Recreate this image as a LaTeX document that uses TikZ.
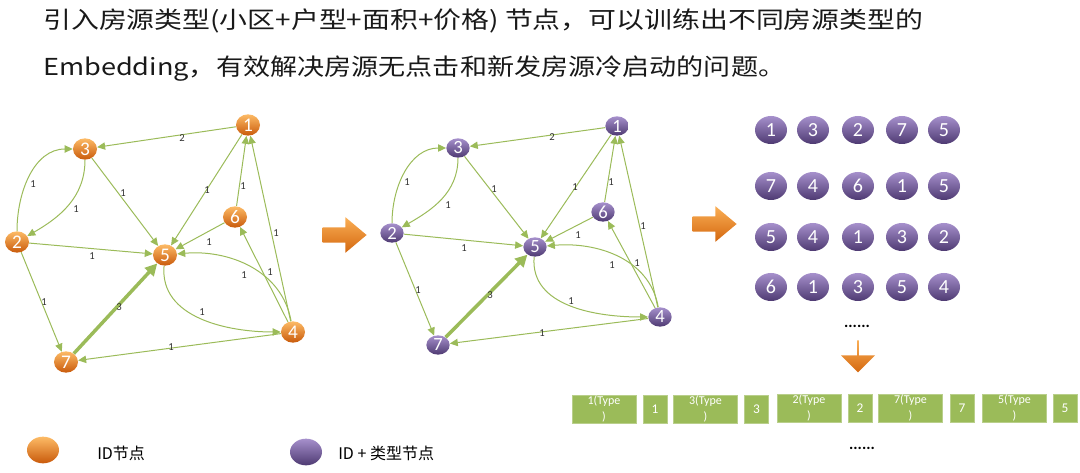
\documentclass[tikz,border=0pt]{standalone}
\usepackage{fontspec}
\setmainfont{Carlito}
\newfontfamily\cjk{Noto Sans CJK SC}
\usetikzlibrary{arrows.meta,shapes.geometric,shapes.arrows}
\definecolor{eg}{HTML}{9BBB59}
\definecolor{otop}{HTML}{FDBB66}
\definecolor{omid}{HTML}{F58A1F}
\definecolor{obot}{HTML}{C95A0B}
\definecolor{atop}{HTML}{FAAE55}
\definecolor{amid}{HTML}{F38B23}
\definecolor{abot}{HTML}{D4680F}
\definecolor{ptop}{HTML}{A690CC}
\definecolor{pmid}{HTML}{7E62A8}
\definecolor{pbot}{HTML}{4E3A72}
\definecolor{lblc}{HTML}{333333}
\begin{document}
\begin{tikzpicture}[x=0.75pt,y=-0.75pt,
  onode/.style={ellipse, inner sep=0pt, minimum width=18pt, minimum height=16pt,
     top color=otop, middle color=omid, bottom color=obot, text=white,
     font=\fontsize{14.5}{14.5}\selectfont},
  pnode/.style={ellipse, inner sep=0pt, minimum width=17.5pt, minimum height=14.5pt,
     top color=ptop, middle color=pmid, bottom color=pbot, text=white,
     font=\fontsize{14}{14}\selectfont},
  gnode/.style={ellipse, inner sep=0pt, minimum width=24pt, minimum height=21pt,
     top color=ptop, middle color=pmid, bottom color=pbot, text=white,
     font=\fontsize{15}{15}\selectfont},
  e/.style={draw=eg, line width=0.75pt, -{Triangle[length=6pt,width=5.5pt]}},
  thick edge/.style={draw=eg, line width=2.6pt, -{Triangle[length=9pt,width=9pt]}},
  lbl/.style={font=\fontsize{8}{8}\selectfont, text=lblc, inner sep=0pt},
  rarrow/.style={single arrow, inner sep=0pt, single arrow tip angle=80,
     top color=atop, middle color=amid, bottom color=abot, draw=none},
  wbox/.style={fill=eg, draw=eg!70!white, line width=0.5pt, text=white, inner sep=0pt,
     minimum width=48pt, minimum height=21pt, align=center, font=\fontsize{9}{12.5}\selectfont},
  nbox/.style={fill=eg, draw=eg!70!white, line width=0.5pt, text=white, inner sep=0pt,
     minimum width=18pt, minimum height=21pt, font=\fontsize{10}{10}\selectfont},
  dots/.style={font=\fontsize{12}{12}\selectfont\bfseries, inner sep=0pt},
  title/.style={anchor=west, inner sep=0pt, font=\cjk\fontsize{17.5}{20}\selectfont, text=black!90}
]
\useasboundingbox (0,0) rectangle (1080,473);

% title
\node[title] (t1) at (43,21)
  {\resizebox{660pt}{\height}{引入房源类型(小区+户型+面积+价格) 节点，可以训练出不同房源类型的}};
\node[title] (t2) at (43,69)
  {\resizebox{556.5pt}{\height}{Embedding，有效解决房源无点击和新发房源冷启动的问题。}};

% left graph
\node[onode] (o1) at (248,125) {1};
\node[onode] (o2) at (17,242) {2};
\node[onode] (o3) at (85,149) {3};
\node[onode] (o4) at (293,332) {4};
\node[onode] (o5) at (165,255) {5};
\node[onode] (o6) at (235,217) {6};
\node[onode] (o7) at (66,362) {7};

\draw[e] (o1) -- (o3) node[lbl] at (182,138) {2};
\draw[e] (o1) -- (o5) node[lbl] at (207,190) {1};
\draw[e] (o6) -- (o1) node[lbl] at (243,186) {1};
\draw[e] (o4) -- (o1) node[lbl] at (276,233) {1};
\draw[e] (o3) -- (o5) node[lbl] at (123,193) {1};
\draw[e] (o2) to[out=90,in=180] (o3) node[lbl] at (33,184) {1};
\draw[e] (o3) to[out=-90,in=30] (o2) node[lbl] at (76,209) {1};
\draw[e] (o2) -- (o5) node[lbl] at (92,256) {1};
\draw[e] (o2) -- (o7) node[lbl] at (44,302) {1};
\draw[thick edge] (o7) -- (o5) node[lbl] at (119,307) {3};
\draw[e] (o6) -- (o5) node[lbl] at (209,242) {1};
\draw[e] (o4) -- (o6) node[lbl] at (270,272) {1};
\draw[e] (o4) to[out=100,in=5] (o5) node[lbl] at (244,275) {1};
\draw[e] (o5) to[out=-95,in=180] (o4) node[lbl] at (202,312) {1};
\draw[e] (o4) -- (o7) node[lbl] at (171,347) {1};

% arrows between panels
\node[rarrow, minimum height=33pt, minimum width=26pt, inner ysep=5.6pt, single arrow head extend=7.5pt] (a1) at (340,235) {};
\node[rarrow, minimum height=33pt, minimum width=26pt, inner ysep=5.6pt, single arrow head extend=7.5pt] (a2) at (710,224) {};

% middle graph
\node[pnode] (p1) at (617,126) {1};
\node[pnode] (p2) at (392,233) {2};
\node[pnode] (p3) at (458,148) {3};
\node[pnode] (p4) at (660,317) {4};
\node[pnode] (p5) at (535,247) {5};
\node[pnode] (p6) at (603,212) {6};
\node[pnode] (p7) at (438,345) {7};

\draw[e] (p1) -- (p3) node[lbl] at (552,137) {2};
\draw[e] (p1) -- (p5) node[lbl] at (575,187) {1};
\draw[e] (p6) -- (p1) node[lbl] at (611,182) {1};
\draw[e] (p4) -- (p1) node[lbl] at (643,226) {1};
\draw[e] (p3) -- (p5) node[lbl] at (494,189) {1};
\draw[e] (p2) to[out=90,in=180] (p3) node[lbl] at (407,182) {1};
\draw[e] (p3) to[out=-90,in=30] (p2) node[lbl] at (448,205) {1};
\draw[e] (p2) -- (p5) node[lbl] at (464,248) {1};
\draw[e] (p2) -- (p7) node[lbl] at (418,290) {1};
\draw[thick edge] (p7) -- (p5) node[lbl] at (490,295) {3};
\draw[e] (p6) -- (p5) node[lbl] at (578,235) {1};
\draw[e] (p4) -- (p6) node[lbl] at (637,263) {1};
\draw[e] (p4) to[out=100,in=5] (p5) node[lbl] at (612,265) {1};
\draw[e] (p5) to[out=-95,in=180] (p4) node[lbl] at (571,301) {1};
\draw[e] (p4) -- (p7) node[lbl] at (542,333) {1};

% walk sequences
\foreach \r/\yy/\la/\lb/\lc/\ld/\le in {1/130/1/3/2/7/5, 2/186/7/4/6/1/5, 3/237/5/4/1/3/2, 4/287/6/1/3/5/4}{
  \node[gnode] (g\r a) at (771,\yy) {\la};
  \node[gnode] (g\r b) at (813,\yy) {\lb};
  \node[gnode] (g\r c) at (858,\yy) {\lc};
  \node[gnode] (g\r d) at (902,\yy) {\ld};
  \node[gnode] (g\r e) at (944,\yy) {\le};
}
\node[dots] (d1) at (857,326) {......};
\node[rarrow, shape border rotate=270, minimum height=24pt, minimum width=25.5pt,
      single arrow head extend=4pt, single arrow tip angle=90] (a3) at (858,356) {};

% token boxes
\node[wbox] (b1) at (604,409) {1(Type\\)};
\node[nbox] (b2) at (655,409) {1};
\node[wbox] (b3) at (705.5,409) {3(Type\\)};
\node[nbox] (b4) at (756.5,409) {3};
\node[wbox] (b5) at (809,408) {2(Type\\)};
\node[nbox] (b6) at (860,408) {2};
\node[wbox] (b7) at (910.5,408) {7(Type\\)};
\node[nbox] (b8) at (962,408) {7};
\node[wbox] (b9) at (1014.5,408) {5(Type\\)};
\node[nbox] (b10) at (1065,408) {5};
\node[dots] (d2) at (862,448) {......};

% legend
\node[onode, minimum width=24pt, minimum height=20pt] (lo) at (43,450) {};
\node[anchor=west, inner sep=0pt, font=\cjk\fontsize{12}{12}\selectfont] (lt1) at (97,453) {ID节点};
\node[pnode, minimum width=24pt, minimum height=20pt] (lp) at (306,452) {};
\node[anchor=west, inner sep=0pt, font=\cjk\fontsize{12}{12}\selectfont] (lt2) at (338,453) {ID + 类型节点};
\end{tikzpicture}
\end{document}
